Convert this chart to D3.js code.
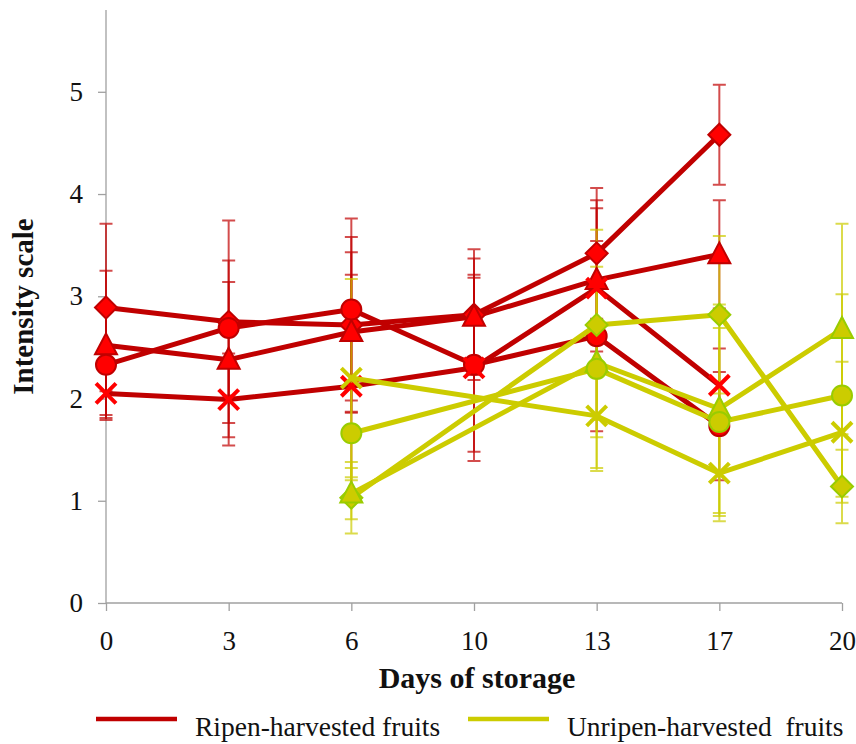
<!DOCTYPE html>
<html>
<head>
<meta charset="utf-8">
<script src="https://cdn.jsdelivr.net/npm/d3@7"></script>
<style>
  body { margin: 0; background: #fff; }
  svg { display: block; font-family: "Liberation Serif", "Times New Roman", serif; }
</style>
</head>
<body>
<div id="chart"></div>
<script>
// categories (days of storage)
const days = ["0", "3", "6", "10", "13", "17", "20"];
const yTicks = [0, 1, 2, 3, 4, 5];

// ripen-harvested fruits (red)
const ripeDiamond = [2.89, 2.75, 2.72, 2.82, 3.42, 4.58, null];
const ripeDiamondErr = [0.82, 0.99, 0.86, 0.64, 0.64, 0.49, null];
const ripeTriangle = [2.52, 2.38, 2.65, 2.80, 3.16, 3.41, null];
const ripeTriangleErr = [0.73, 0.76, 0.78, 0.57, 0.70, 0.53, null];
const ripeCircle = [2.33, 2.69, 2.87, 2.33, 2.61, 1.73, null];
const ripeCircleErr = [0.52, 0.66, 0.89, 0.85, 0.93, 0.53, null];
const ripeCross = [2.05, 1.99, 2.12, 2.30, 3.08, 2.13, null];
const ripeCrossErr = [0.21, 0.45, 1.09, 0.91, 0.86, 0.36, null];

// unripen-harvested fruits (yellow)
const unripeDiamond = [null, null, 1.03, null, 2.72, 2.82, 1.14];
const unripeDiamondErr = [null, null, 0.35, null, 0.93, 0.77, 0.36];
const unripeTriangle = [null, null, 1.07, null, 2.35, 1.90, 2.68];
const unripeTriangleErr = [null, null, 0.25, null, 0.73, 1.02, 1.03];
const unripeCircle = [null, null, 1.66, null, 2.29, 1.77, 2.03];
const unripeCircleErr = [null, null, 0.46, null, 1.00, 0.92, 0.99];
const unripeCross = [null, null, 2.20, null, 1.83, 1.27, 1.67];
const unripeCrossErr = [null, null, 0.97, null, 0.51, 0.47, 0.69];

const legendLabels = ["Ripen-harvested fruits", "Unripen-harvested  fruits"];

const styles = {
    ripe: {line: "#C00000", fill: "#FF0000", stroke: "#C00000", err: "#C00000", cross: "#FF0000"},
    unripe: {line: "#CCCC00", fill: "#CCCC00", stroke: "#99CC00", err: "#CCCC00", cross: "#CCCC00"}
};

const series = [
    {group: "ripe", shape: "diamond", values: ripeDiamond, errors: ripeDiamondErr},
    {group: "ripe", shape: "triangle", values: ripeTriangle, errors: ripeTriangleErr},
    {group: "ripe", shape: "circle", values: ripeCircle, errors: ripeCircleErr},
    {group: "ripe", shape: "cross", values: ripeCross, errors: ripeCrossErr},
    {group: "unripe", shape: "diamond", values: unripeDiamond, errors: unripeDiamondErr},
    {group: "unripe", shape: "triangle", values: unripeTriangle, errors: unripeTriangleErr},
    {group: "unripe", shape: "circle", values: unripeCircle, errors: unripeCircleErr},
    {group: "unripe", shape: "cross", values: unripeCross, errors: unripeCrossErr}
];

const size = {width: 856, height: 744};
const margin = {top: 10, right: 14, bottom: 141, left: 106};
const width = size.width - margin.left - margin.right;
const height = size.height - margin.top - margin.bottom;

const svg = d3.select("#chart").append("svg")
    .attr("width", size.width)
    .attr("height", size.height);

const g = svg.append("g")
    .attr("transform", `translate(${margin.left},${margin.top})`);

const x = d3.scalePoint(days, [0, width]);
const y = d3.scaleLinear([0, 5.8], [height, 0]);

// axes
const axisColor = "#A0A0A0";
const yAxis = g.append("g")
    .call(d3.axisLeft(y).tickValues(yTicks).tickSize(8).tickPadding(15).tickFormat(d3.format("d")));
const xAxis = g.append("g")
    .attr("transform", `translate(0,${height})`)
    .call(d3.axisBottom(x).tickSize(8).tickPadding(20));
[yAxis, xAxis].forEach(ax => {
    ax.select(".domain").attr("stroke", axisColor).attr("stroke-width", 1.3);
    ax.selectAll(".tick line").attr("stroke", axisColor).attr("stroke-width", 1.3);
    ax.selectAll(".tick text")
        .attr("fill", "#111")
        .style("font-family", "'Liberation Serif', serif")
        .style("font-size", "27px");
});
yAxis.select(".domain").attr("d", `M0,0V${height}`);
xAxis.select(".domain").attr("d", `M0,0H${width}`);

// axis titles
svg.append("text")
    .attr("transform", `translate(33,${margin.top + y(2.9)}) rotate(-90)`)
    .attr("text-anchor", "middle")
    .style("font-weight", "bold")
    .style("font-size", "29px")
    .attr("fill", "#111")
    .text("Intensity scale");

svg.append("text")
    .attr("x", margin.left + width / 2 + 3)
    .attr("y", 688)
    .attr("text-anchor", "middle")
    .style("font-weight", "bold")
    .style("font-size", "30px")
    .attr("fill", "#111")
    .text("Days of storage");

// marker paths
function markerPath(shape) {
    if (shape === "diamond") return "M0,-11L11,0L0,11L-11,0Z";
    if (shape === "triangle") return "M0,-12L11,9L-11,9Z";
    if (shape === "circle") return d3.arc()({innerRadius: 0, outerRadius: 10, startAngle: 0, endAngle: 2 * Math.PI});
    return "M-10,-10L10,10M-10,10L10,-10";
}

const pts = s => s.values.map((v, i) => ({day: days[i], v: v, e: s.errors[i]})).filter(d => d.v != null);

// error bars
const errG = g.append("g").attr("class", "errorBars");
series.forEach(s => {
    const st = styles[s.group];
    const eg = errG.append("g")
        .attr("stroke", st.err)
        .attr("stroke-opacity", 0.7)
        .attr("stroke-width", 2)
        .attr("fill", "none");
    eg.selectAll("path")
        .data(pts(s).filter(d => d.e != null))
        .join("path")
        .attr("d", d => {
            const cx = x(d.day), y0 = y(d.v - d.e), y1 = y(d.v + d.e);
            return `M${cx},${y0}V${y1}M${cx - 6.5},${y0}H${cx + 6.5}M${cx - 6.5},${y1}H${cx + 6.5}`;
        });
});

// lines and markers
const line = d3.line()
    .x(d => x(d.day))
    .y(d => y(d.v));

["ripe", "unripe"].forEach(group => {
    const st = styles[group];
    const gs = series.filter(s => s.group === group);
    g.append("g").selectAll(".seriesLine")
        .data(gs)
        .join("path")
        .attr("class", "seriesLine")
        .attr("fill", "none")
        .attr("stroke", st.line)
        .attr("stroke-width", 5)
        .attr("stroke-linejoin", "round")
        .attr("d", s => line(pts(s)));

    gs.forEach(s => {
        g.append("g").selectAll(".marker")
            .data(pts(s))
            .join("path")
            .attr("class", "marker")
            .attr("transform", d => `translate(${x(d.day)},${y(d.v)})`)
            .attr("d", markerPath(s.shape))
            .attr("fill", s.shape === "cross" ? "none" : st.fill)
            .attr("stroke", s.shape === "cross" ? st.cross : st.stroke)
            .attr("stroke-width", s.shape === "cross" ? 4 : 2);
    });
});

// legend
const legend = svg.append("g").attr("class", "legend");
const legendPos = [{x: 96, label: legendLabels[0], color: styles.ripe.line},
                   {x: 468, label: legendLabels[1], color: styles.unripe.line}];
legendPos.forEach(l => {
    legend.append("line")
        .attr("x1", l.x).attr("x2", l.x + 81)
        .attr("y1", 719).attr("y2", 719)
        .attr("stroke", l.color)
        .attr("stroke-width", 4.5);
    legend.append("text")
        .attr("x", l.x + 99)
        .attr("y", 736)
        .style("font-size", "27.5px")
        .style("white-space", "pre")
        .attr("fill", "#111")
        .text(l.label);
});
</script>
</body>
</html>
